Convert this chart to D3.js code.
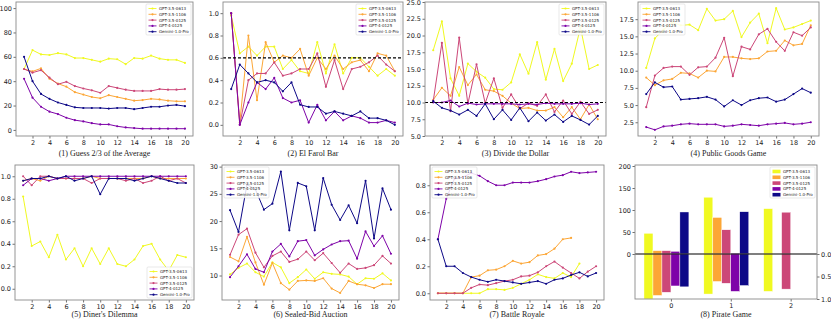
<!DOCTYPE html>
<html>
<head>
<meta charset="utf-8">
<script src="https://cdn.jsdelivr.net/npm/d3@7/dist/d3.min.js"></script>
<style>
  body { margin: 0; background: #fff; }
  svg { display: block; }
</style>
</head>
<body>
<div id="chart"></div>
<script>
const models = ["GPT-3.5-0613", "GPT-3.5-1106", "GPT-3.5-0125", "GPT-4-0125", "Gemini-1.0-Pro"];
const colors = ["#f0f921", "#fca636", "#cc4778", "#7e03a8", "#0d0887"];
const roundTicks = [2, 4, 6, 8, 10, 12, 14, 16, 18, 20];

// one row per model, values for rounds 1..20
const guessAverage = [
  [50, 65.5, 62, 61.5, 63, 62, 59, 59, 57.5, 56, 58.5, 58, 54, 59, 58.5, 61, 58.5, 57.5, 57.5, 55],
  [50, 48, 50.5, 42, 38, 35.5, 31, 29, 27, 26, 28.5, 27, 25.5, 24, 24.5, 25.5, 25, 24, 23.5, 23.5],
  [50, 47, 49, 43, 37.5, 39.5, 36, 34, 32.5, 30.5, 36, 34.5, 33, 32, 32, 32, 33.5, 33, 33, 33.5],
  [42, 26.5, 19, 15, 13, 10, 8, 7, 5.5, 4.5, 4.5, 3, 2, 1.5, 1, 1, 1, 1, 1, 1],
  [60, 40, 29.5, 25.5, 22.5, 20.5, 18.5, 18, 18, 18, 17.5, 18, 18, 17, 18, 19, 19, 20, 20.5, 19.5]
];
const elFarol = [
  [0.98, 0.64, 0.70, 0.62, 0.70, 0.70, 0.50, 0.58, 0.48, 0.46, 0.74, 0.46, 0.72, 0.46, 0.60, 0.60, 0.52, 0.44, 0.50, 0.44],
  [1.0, 0.02, 0.80, 0.22, 0.74, 0.56, 0.62, 0.60, 0.68, 0.44, 0.60, 0.50, 0.62, 0.50, 0.56, 0.58, 0.48, 0.64, 0.62, 0.48],
  [1.0, 0.0, 0.40, 0.46, 0.46, 0.56, 0.44, 0.46, 0.50, 0.50, 0.64, 0.34, 0.58, 0.32, 0.50, 0.52, 0.56, 0.62, 0.54, 0.48],
  [1.0, 0.0, 0.20, 0.38, 0.32, 0.42, 0.24, 0.20, 0.22, 0.02, 0.18, 0.04, 0.12, 0.04, 0.08, 0.06, 0.02, 0.02, 0.04, 0.02],
  [0.32, 0.54, 0.46, 0.38, 0.40, 0.38, 0.30, 0.38, 0.18, 0.16, 0.16, 0.10, 0.12, 0.10, 0.08, 0.12, 0.06, 0.06, 0.04, 0.0]
];
const divideDollar = [
  [17.8, 22.1, 13.6, 11.0, 15.8, 14.6, 13.7, 12.0, 11.9, 13.0, 17.2, 14.3, 19.0, 13.4, 18.0, 13.2, 15.8, 21.2, 15.0, 15.6],
  [10.4, 12.2, 11.0, 15.3, 12.6, 14.2, 11.9, 11.7, 11.0, 9.9, 9.1, 9.2, 8.8, 8.8, 9.3, 7.8, 9.3, 7.5, 9.7, 7.5],
  [10.2, 18.9, 8.7, 19.7, 9.8, 15.7, 9.9, 13.6, 9.2, 11.2, 9.1, 9.9, 9.5, 11.2, 8.6, 10.3, 8.3, 10.1, 8.3, 8.9],
  [10.0, 10.0, 10.3, 9.4, 9.9, 9.7, 9.8, 9.8, 9.8, 9.8, 9.7, 9.8, 9.7, 9.9, 9.8, 9.8, 9.8, 9.9, 9.7, 9.8],
  [10.2, 9.2, 8.8, 8.2, 8.9, 8.0, 9.8, 7.5, 8.9, 7.4, 9.2, 7.2, 8.5, 7.3, 8.2, 7.1, 8.0, 7.4, 6.7, 8.0]
];
const publicGoods = [
  [10.4, 14.7, 16.0, 17.0, 16.6, 16.7, 15.9, 19.0, 17.3, 17.5, 18.7, 14.9, 17.0, 18.3, 14.0, 19.1, 16.0, 16.3, 16.8, 17.3],
  [9.0, 7.9, 8.6, 8.8, 9.7, 9.6, 9.0, 10.0, 9.9, 12.0, 12.0, 11.8, 11.7, 11.8, 12.8, 12.9, 14.4, 13.7, 13.9, 16.6],
  [4.7, 9.3, 10.4, 10.6, 10.6, 9.4, 10.5, 10.6, 11.9, 14.8, 9.2, 13.5, 13.1, 15.3, 16.1, 14.2, 12.9, 15.6, 15.1, 16.3],
  [1.8, 1.4, 1.9, 2.0, 2.2, 2.3, 2.2, 2.2, 2.2, 1.9, 2.0, 2.2, 2.1, 2.0, 2.2, 2.3, 2.4, 2.2, 2.3, 2.5],
  [6.6, 8.3, 7.6, 7.7, 5.8, 5.9, 6.0, 6.2, 5.8, 4.8, 5.7, 5.0, 5.7, 6.0, 6.1, 5.5, 5.8, 6.6, 7.4, 6.8]
];
const dinersDilemma = [
  [0.82, 0.38, 0.42, 0.28, 0.48, 0.26, 0.36, 0.20, 0.36, 0.22, 0.36, 0.22, 0.20, 0.26, 0.38, 0.40, 0.26, 0.16, 0.30, 0.28],
  [0.96, 0.98, 0.96, 1.0, 0.98, 0.98, 0.98, 0.98, 1.0, 0.98, 0.98, 0.98, 0.98, 0.98, 0.98, 1.0, 0.98, 0.98, 0.98, 0.98],
  [1.0, 0.92, 1.0, 1.0, 0.98, 0.98, 0.98, 0.98, 0.94, 0.98, 0.98, 0.98, 0.96, 0.98, 0.94, 0.96, 1.0, 0.96, 0.98, 0.94],
  [0.92, 0.98, 0.98, 0.96, 0.98, 1.0, 1.0, 1.0, 1.0, 1.0, 1.0, 1.0, 1.0, 1.0, 1.0, 1.0, 1.0, 1.0, 1.0, 1.0],
  [0.96, 0.98, 0.98, 1.0, 0.98, 1.0, 0.96, 0.98, 1.0, 0.84, 0.98, 0.98, 0.98, 0.96, 0.98, 1.0, 0.98, 0.96, 0.94, 0.94]
];
const sealedBid = [
  [10.2, 11.4, 12.2, 10.6, 9.8, 12.4, 11.5, 8.6, 9.7, 11.1, 9.4, 10.6, 10.3, 10.2, 9.8, 8.4, 9.5, 9.4, 10.4, 9.1],
  [13.4, 12.6, 17.1, 12.4, 8.3, 12.3, 8.6, 7.4, 9.0, 9.1, 9.0, 9.5, 7.6, 6.8, 9.0, 8.4, 8.2, 7.7, 8.4, 8.4],
  [13.8, 17.5, 18.6, 14.2, 11.5, 13.6, 14.4, 12.5, 13.0, 14.4, 12.8, 14.1, 12.3, 10.5, 12.2, 11.2, 11.4, 11.9, 13.6, 12.2],
  [9.7, 11.7, 13.9, 11.2, 10.6, 14.4, 15.8, 13.5, 16.3, 16.5, 13.7, 14.8, 15.7, 16.3, 16.4, 13.1, 18.1, 15.4, 17.3, 14.0],
  [22.0, 18.0, 26.7, 25.8, 22.1, 23.2, 29.1, 18.3, 27.0, 26.4, 18.3, 27.9, 23.0, 20.2, 22.9, 19.6, 27.4, 16.8, 26.0, 22.1]
];
const battleRoyale = [
  [0, 0, 0, 0, 0, 0, 0.03, 0.03, 0.025, 0.04, 0.07, 0.10, 0.14, 0.12, 0.11, 0.15, 0.12, 0.22],
  [0, 0, 0, 0, 0.12, 0.13, 0.17, 0.175, 0.20, 0.24, 0.22, 0.23, 0.28, 0.29, 0.33, 0.40, 0.41],
  [0, 0, 0, 0, 0.04, 0.065, 0.06, 0.075, 0.09, 0.10, 0.125, 0.13, 0.155, 0.20, 0.235, 0.19, 0.15, 0.11, 0.16, 0.20],
  [0.40, 0.70, 0.85, 0.86, 0.89, 0.87, 0.83, 0.80, 0.80, 0.82, 0.82, 0.82, 0.83, 0.845, 0.865, 0.875, 0.90, 0.89, 0.895, 0.90],
  [0.40, 0.20, 0.20, 0.15, 0.12, 0.10, 0.085, 0.10, 0.09, 0.08, 0.07, 0.08, 0.09, 0.07, 0.10, 0.11, 0.135, 0.155, 0.125, 0.15]
];

// Pirate game: categories 0..2, upper bars on left axis, lower bars on the inverted right axis
const pirateCats = [0, 1, 2];
const pirateUpper = [
  [47, 129, 103],
  [7.5, 83, 0],
  [7.5, 55, 95],
  [6, 2, 0],
  [95.5, 96, 0]
];
const pirateLower = [
  [1.0, 0.89, 0.83],
  [0.92, 0.61, 0],
  [0.85, 0.65, 0.78],
  [0.71, 0.83, 0],
  [0.73, 0.70, 0]
];

const W = 831, H = 321;
const rows = [{top: 2, bottom: 136, tickY: 144, titleY: 156}, {top: 165, bottom: 300, tickY: 307, titleY: 317}];
const font = "DejaVu Sans, sans-serif";

const svg = d3.select("#chart").append("svg")
  .attr("width", W).attr("height", H)
  .attr("viewBox", [0, 0, W, H]);

const panels = [
  {title: "(1) Guess 2/3 of the Average", data: guessAverage, x0: 16, x1: 193, row: 0, y: [-5, 105], ticks: [0, 20, 40, 60, 80, 100], fmt: "d", legend: "ur"},
  {title: "(2) El Farol Bar", data: elFarol, x0: 223, x1: 403, row: 0, y: [-0.1, 1.1], ticks: [0, 0.2, 0.4, 0.6, 0.8, 1.0], fmt: ".1f", legend: "ur", ref: 0.6},
  {title: "(3) Divide the Dollar", data: divideDollar, x0: 425, x1: 606, row: 0, y: [5, 25], ticks: [5, 7.5, 10, 12.5, 15, 17.5, 20, 22.5, 25], fmt: ".1f", legend: "ur", ref: 10},
  {title: "(4) Public Goods Game", data: publicGoods, x0: 638, x1: 819, row: 0, y: [0.5, 20], ticks: [2.5, 5, 7.5, 10, 12.5, 15, 17.5], fmt: ".1f", legend: "ul"},
  {title: "(5) Diner's Dilemma", data: dinersDilemma, x0: 15, x1: 194, row: 1, y: [-0.1, 1.1], ticks: [0, 0.2, 0.4, 0.6, 0.8, 1.0], fmt: ".1f", legend: "lr"},
  {title: "(6) Sealed-Bid Auction", data: sealedBid, x0: 222, x1: 399, row: 1, y: [5.5, 30.3], ticks: [10, 15, 20, 25, 30], fmt: "d", legend: "ul"},
  {title: "(7) Battle Royale", data: battleRoyale, x0: 430, x1: 604, row: 1, y: [-0.05, 0.95], ticks: [0, 0.2, 0.4, 0.6, 0.8], fmt: ".1f", legend: "ul"}
];

function styleAxis(g) {
  g.select(".domain").remove();
  g.selectAll(".tick line").attr("stroke", "#333").attr("stroke-width", 0.7);
  g.selectAll(".tick text").attr("fill", "#222").attr("font-size", 6.5).attr("font-family", font);
}

function frame(g, x0, x1, r) {
  g.append("rect")
    .attr("x", x0).attr("y", r.top)
    .attr("width", x1 - x0).attr("height", r.bottom - r.top)
    .attr("fill", "none").attr("stroke", "#8a8a8a").attr("stroke-width", 0.9);
}

function legend(g, p, r, swatch) {
  const w = 45, h = 31;
  let lx = p.legend === "ul" ? p.x0 + 2 : p.x1 - w - 2;
  let ly = p.legend === "lr" ? r.bottom - h - 2 : r.top + 2;
  const lg = g.append("g").attr("transform", `translate(${lx},${ly})`);
  lg.append("rect").attr("width", w).attr("height", h).attr("rx", 1)
    .attr("fill", "#fff").attr("fill-opacity", 0.85)
    .attr("stroke", "#d0d0d0").attr("stroke-width", 0.5);
  models.forEach((m, i) => {
    const cy = 4.5 + i * 5.8;
    if (swatch) {
      lg.append("rect").attr("x", 2.5).attr("y", cy - 1.8).attr("width", 8).attr("height", 3.6).attr("fill", colors[i]);
    } else {
      lg.append("line").attr("x1", 2.5).attr("x2", 10.5).attr("y1", cy).attr("y2", cy)
        .attr("stroke", colors[i]).attr("stroke-width", 0.9);
      lg.append("circle").attr("cx", 6.5).attr("cy", cy).attr("r", 1.1).attr("fill", colors[i]);
    }
    lg.append("text").attr("x", 13).attr("y", cy + 1.4)
      .attr("font-size", 4).attr("font-family", font).attr("fill", "#222")
      .text(m);
  });
}

panels.forEach(p => {
  const r = rows[p.row];
  const g = svg.append("g");
  const x = d3.scaleLinear().domain([0.05, 20.95]).range([p.x0, p.x1]);
  const y = d3.scaleLinear().domain(p.y).range([r.bottom, r.top]);

  g.append("g").attr("transform", `translate(0,${r.bottom})`)
    .call(d3.axisBottom(x).tickValues(roundTicks).tickFormat(d3.format("d")).tickSize(2.5).tickPadding(1.5))
    .call(styleAxis);
  g.append("g").attr("transform", `translate(${p.x0},0)`)
    .call(d3.axisLeft(y).tickValues(p.ticks).tickFormat(d3.format(p.fmt)).tickSize(2.5).tickPadding(1.5))
    .call(styleAxis);

  const line = d3.line().x((d, i) => x(i + 1)).y(d => y(d));
  p.data.forEach((vals, k) => {
    g.append("path").datum(vals)
      .attr("d", line).attr("fill", "none")
      .attr("stroke", colors[k]).attr("stroke-width", 1);
    g.append("g").selectAll("circle").data(vals).join("circle")
      .attr("cx", (d, i) => x(i + 1)).attr("cy", d => y(d))
      .attr("r", 1.1).attr("fill", colors[k]);
  });

  if (p.ref !== undefined) {
    g.append("line").attr("x1", p.x0).attr("x2", p.x1)
      .attr("y1", y(p.ref)).attr("y2", y(p.ref))
      .attr("stroke", "#000").attr("stroke-width", 1.1).attr("stroke-dasharray", "3,2");
  }

  frame(g, p.x0, p.x1, r);
  legend(g, p, r, false);

  g.append("text").attr("x", (p.x0 + p.x1) / 2).attr("y", r.titleY)
    .attr("text-anchor", "middle").attr("font-family", "Liberation Serif, Times New Roman, serif")
    .attr("font-size", 8).attr("fill", "#222").text(p.title);
});

// (8) Pirate Game
{
  const p = {x0: 635, x1: 817, legend: "ur"};
  const r = {top: 165, bottom: 299, titleY: 317};
  const g = svg.append("g");
  const x = d3.scaleLinear().domain([-0.6, 2.44]).range([p.x0, p.x1]);
  const yUp = d3.scaleLinear().domain([0, 200]).range([254, r.top + 1]);
  const yDown = d3.scaleLinear().domain([0, 1]).range([254, r.bottom]);
  const bw = 0.15;

  pirateUpper.forEach((vals, k) => {
    g.append("g").selectAll("rect").data(vals).join("rect")
      .attr("x", (d, i) => x(pirateCats[i] + (k - 3) * bw))
      .attr("width", x(bw) - x(0))
      .attr("y", d => yUp(d)).attr("height", d => yUp(0) - yUp(d))
      .attr("fill", colors[k]).attr("stroke", "#fff").attr("stroke-width", 0.4)
      .attr("display", d => d > 0 ? null : "none");
  });
  pirateLower.forEach((vals, k) => {
    g.append("g").selectAll("rect").data(vals).join("rect")
      .attr("x", (d, i) => x(pirateCats[i] + (k - 3) * bw))
      .attr("width", x(bw) - x(0))
      .attr("y", yDown(0)).attr("height", d => yDown(d) - yDown(0))
      .attr("fill", colors[k]).attr("stroke", "#fff").attr("stroke-width", 0.4)
      .attr("display", d => d > 0 ? null : "none");
  });

  g.append("line").attr("x1", p.x0).attr("x2", p.x1)
    .attr("y1", yUp(0)).attr("y2", yUp(0))
    .attr("stroke", "#000").attr("stroke-width", 1.2);

  g.append("g").attr("transform", `translate(0,${r.bottom})`)
    .call(d3.axisBottom(x).tickValues(pirateCats).tickFormat(d3.format("d")).tickSize(2.5).tickPadding(1.5))
    .call(styleAxis);
  g.append("g").attr("transform", `translate(${p.x0},0)`)
    .call(d3.axisLeft(yUp).tickValues([0, 50, 100, 150, 200]).tickSize(2.5).tickPadding(1.5))
    .call(styleAxis);
  g.append("g").attr("transform", `translate(${p.x1},0)`)
    .call(d3.axisRight(yDown).tickValues([0, 0.5, 1.0]).tickFormat(d3.format(".1f")).tickSize(2.5).tickPadding(1.5))
    .call(styleAxis);

  frame(g, p.x0, p.x1, r);
  legend(g, p, r, true);

  g.append("text").attr("x", (p.x0 + p.x1) / 2).attr("y", r.titleY)
    .attr("text-anchor", "middle").attr("font-family", "Liberation Serif, Times New Roman, serif")
    .attr("font-size", 8).attr("fill", "#222").text("(8) Pirate Game");
}
</script>
</body>
</html>
